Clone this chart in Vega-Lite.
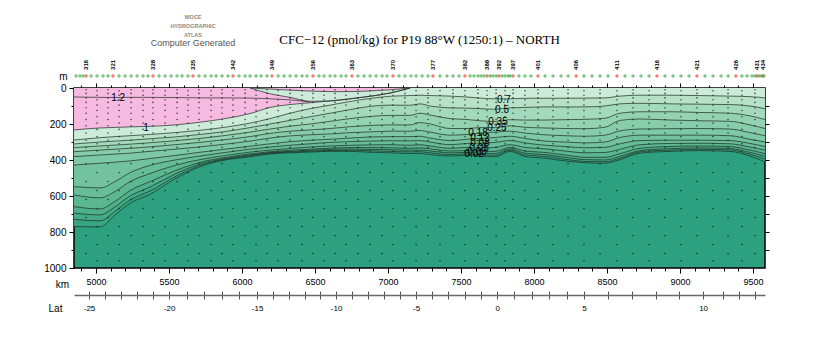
{
"$schema": "https://vega.github.io/schema/vega-lite/v6.json",
"width": 691, "height": 180,
"autosize": {"type": "none"},
"padding": {"left": 74, "top": 88, "right": 55, "bottom": 82},
"background": "white",
"title": {"text": "CFC\u221212 (pmol/kg) for P19 88\u00b0W (1250:1) \u2013 NORTH", "font": "Liberation Serif", "fontSize": 13, "fontWeight": "normal", "color": "black", "anchor": "middle", "frame": "group", "baseline": "middle", "offset": -38},
"config": {
  "view": {"stroke": "black", "strokeWidth": 1.5, "fill": "#2ca07f"},
  "axis": {"tickColor": "black", "labelColor": "black", "labelFont": "Liberation Sans", "titleFont": "Liberation Sans", "titleColor": "black", "titleFontWeight": "normal", "grid": false, "domain": false, "labelFlush": false, "labelOverlap": false}
},
"datasets": {
"sec": [
{"km":4849,"c12":50,"c10":233,"c07":289,"c05":311,"c035":331,"c025":354,"c018":381,"c012":428,"c008":548,"c005":594,"c003":659,"c002":695,"c001":730,"c0005":770},
{"km":5027,"c12":52,"c10":222,"c07":276,"c05":300,"c035":322,"c025":345,"c018":372,"c012":418,"c008":555,"c005":610,"c003":672,"c002":705,"c001":738,"c0005":772},
{"km":5130,"c12":53,"c10":219,"c07":270,"c05":295,"c035":317,"c025":340,"c018":367,"c012":412,"c008":520,"c005":575,"c003":630,"c002":660,"c001":685,"c0005":705},
{"km":5233,"c12":52,"c10":216,"c07":265,"c05":290,"c035":312,"c025":335,"c018":362,"c012":405,"c008":470,"c005":520,"c003":570,"c002":600,"c001":622,"c0005":640},
{"km":5370,"c12":52,"c10":213,"c07":258,"c05":282,"c035":304,"c025":327,"c018":352,"c012":392,"c008":430,"c005":475,"c003":520,"c002":550,"c001":572,"c0005":590},
{"km":5541,"c12":53,"c10":205,"c07":248,"c05":272,"c035":293,"c025":315,"c018":340,"c012":375,"c008":400,"c005":430,"c003":460,"c002":478,"c001":493,"c0005":505},
{"km":5712,"c12":55,"c10":190,"c07":235,"c05":258,"c035":280,"c025":302,"c018":327,"c012":357,"c008":378,"c005":398,"c003":413,"c002":422,"c001":430,"c0005":437},
{"km":5884,"c12":55,"c10":170,"c07":218,"c05":242,"c035":264,"c025":287,"c018":312,"c012":340,"c008":358,"c005":375,"c003":386,"c002":392,"c001":396,"c0005":400},
{"km":6055,"c12":56,"c10":142,"it":0,"ib":0,"c07":195,"c05":220,"c035":245,"c025":270,"c018":295,"c012":323,"c008":340,"c005":356,"c003":366,"c002":372,"c001":377,"c0005":382},
{"km":6192,"c12":60,"c10":108,"it":6,"ib":32,"c07":170,"c05":200,"c035":228,"c025":252,"c018":278,"c012":310,"c008":328,"c005":345,"c003":354,"c002":359,"c001":362,"c0005":366},
{"km":6329,"c12":66,"c10":92,"it":12,"ib":52,"c07":140,"c05":180,"c035":212,"c025":240,"c018":266,"c012":298,"c008":318,"c005":336,"c003":346,"c002":352,"c001":356,"c0005":360},
{"km":6466,"c12":78,"c10":82,"it":17,"ib":74,"c07":115,"c05":160,"c035":200,"c025":233,"c018":260,"c012":290,"c008":310,"c005":328,"c003":340,"c002":346,"c001":351,"c0005":356},
{"km":6603,"c10":72,"it":20,"ib":72,"c07":95,"c05":140,"c035":185,"c025":225,"c018":255,"c012":285,"c008":302,"c005":322,"c003":334,"c002":341,"c001":347,"c0005":352},
{"km":6740,"c10":60,"it":20,"ib":60,"c07":75,"c05":120,"c035":170,"c025":215,"c018":248,"c012":278,"c008":298,"c005":318,"c003":331,"c002":339,"c001":346,"c0005":352},
{"km":6877,"c10":46,"it":16,"ib":46,"c07":58,"c05":102,"c035":158,"c025":208,"c018":244,"c012":272,"c008":295,"c005":316,"c003":331,"c002":341,"c001":349,"c0005":357},
{"km":7014,"c10":28,"it":10,"ib":28,"c07":46,"c05":95,"c035":152,"c025":205,"c018":240,"c012":270,"c008":293,"c005":315,"c003":332,"c002":343,"c001":352,"c0005":360},
{"km":7151,"c10":0,"it":0,"ib":0,"c07":42,"c05":96,"c035":152,"c025":205,"c018":240,"c012":270,"c008":294,"c005":318,"c003":335,"c002":346,"c001":355,"c0005":364},
{"km":7219,"c07":40,"c05":88,"c035":140,"c025":192,"c018":236,"c012":268,"c008":292,"c005":315,"c003":333,"c002":345,"c001":354,"c0005":363},
{"km":7288,"c07":42,"c05":100,"c035":150,"c025":200,"c018":245,"c012":278,"c008":300,"c005":322,"c003":338,"c002":350,"c001":360,"c0005":370},
{"km":7425,"c07":45,"c05":110,"c035":170,"c025":225,"c018":262,"c012":292,"c008":315,"c005":335,"c003":350,"c002":360,"c001":370,"c0005":378},
{"km":7541,"c07":50,"c05":112,"c035":175,"c025":225,"c018":258,"c012":285,"c008":308,"c005":330,"c003":348,"c002":358,"c001":366,"c0005":374},
{"km":7630,"c07":56,"c05":115,"c035":182,"c025":220,"c018":250,"c012":280,"c008":306,"c005":333,"c003":352,"c002":362,"c001":370,"c0005":378},
{"km":7733,"c07":60,"c05":118,"c035":186,"c025":220,"c018":245,"c012":275,"c008":302,"c005":330,"c003":352,"c002":364,"c001":374,"c0005":382},
{"km":7836,"c07":60,"c05":110,"c035":176,"c025":210,"c018":240,"c012":268,"c008":292,"c005":315,"c003":330,"c002":338,"c001":345,"c0005":352},
{"km":7938,"c07":57,"c05":108,"c035":178,"c025":218,"c018":250,"c012":280,"c008":305,"c005":330,"c003":350,"c002":362,"c001":372,"c0005":380},
{"km":8075,"c07":57,"c05":105,"c035":178,"c025":222,"c018":260,"c012":295,"c008":318,"c005":338,"c003":358,"c002":370,"c001":380,"c0005":390},
{"km":8212,"c07":57,"c05":105,"c035":176,"c025":225,"c018":265,"c012":300,"c008":325,"c005":350,"c003":372,"c002":385,"c001":396,"c0005":405},
{"km":8349,"c07":56,"c05":105,"c035":174,"c025":226,"c018":268,"c012":305,"c008":332,"c005":360,"c003":385,"c002":398,"c001":408,"c0005":415},
{"km":8486,"c07":55,"c05":100,"c035":168,"c025":218,"c018":262,"c012":300,"c008":330,"c005":358,"c003":385,"c002":400,"c001":410,"c0005":418},
{"km":8589,"c07":45,"c05":88,"c035":140,"c025":180,"c018":238,"c012":275,"c008":310,"c005":340,"c003":365,"c002":380,"c001":390,"c0005":398},
{"km":8726,"c07":40,"c05":85,"c035":132,"c025":172,"c018":228,"c012":262,"c008":292,"c005":315,"c003":335,"c002":348,"c001":355,"c0005":362},
{"km":8931,"c07":40,"c05":88,"c035":132,"c025":178,"c018":226,"c012":262,"c008":290,"c005":308,"c003":325,"c002":337,"c001":345,"c0005":352},
{"km":9137,"c07":42,"c05":90,"c035":136,"c025":182,"c018":225,"c012":262,"c008":290,"c005":307,"c003":322,"c002":333,"c001":341,"c0005":348},
{"km":9342,"c07":45,"c05":92,"c035":140,"c025":185,"c018":228,"c012":265,"c008":292,"c005":310,"c003":325,"c002":336,"c001":344,"c0005":352},
{"km":9479,"c07":48,"c05":100,"c035":155,"c025":205,"c018":248,"c012":285,"c008":308,"c005":328,"c003":345,"c002":358,"c001":368,"c0005":378},
{"km":9582,"c07":55,"c05":115,"c035":175,"c025":225,"c018":265,"c012":300,"c008":325,"c005":345,"c003":365,"c002":380,"c001":395,"c0005":410}
],
"lab": [
{"km":5151,"d":55,"t":"1.2"},
{"km":5342,"d":220,"t":"1"},
{"km":7794,"d":67,"t":"0.7"},
{"km":7781,"d":122,"t":"0.5"},
{"km":7753,"d":189,"t":"0.35"},
{"km":7746,"d":222,"t":"0.25"},
{"km":7616,"d":250,"t":"0.18"},
{"km":7630,"d":280,"t":"0.12"},
{"km":7630,"d":308,"t":"0.08"},
{"km":7623,"d":333,"t":"0.05"},
{"km":7610,"d":355,"t":"0.03"},
{"km":7589,"d":369,"t":"0.02"}
],
"stn": [
{"km":4863},{"km":4890},{"km":4911},{"km":4932,"stn":"316"},{"km":4966},{"km":5007},{"km":5048},{"km":5082},{"km":5116,"stn":"321"},
{"km":5158},{"km":5199},{"km":5240},{"km":5281},{"km":5322},{"km":5356},{"km":5390,"stn":"328"},
{"km":5432},{"km":5473},{"km":5514},{"km":5555},{"km":5589},{"km":5630},{"km":5664,"stn":"335"},
{"km":5705},{"km":5747},{"km":5788},{"km":5822},{"km":5863},{"km":5904},{"km":5938,"stn":"342"},
{"km":5979},{"km":6021},{"km":6055},{"km":6096},{"km":6130},{"km":6171},{"km":6205,"stn":"349"},
{"km":6247},{"km":6288},{"km":6329},{"km":6370},{"km":6411},{"km":6445},{"km":6486,"stn":"356"},
{"km":6527},{"km":6562},{"km":6603},{"km":6637},{"km":6678},{"km":6712},{"km":6753,"stn":"363"},
{"km":6794},{"km":6836},{"km":6877},{"km":6918},{"km":6959},{"km":6993},{"km":7034,"stn":"370"},
{"km":7075},{"km":7116},{"km":7157},{"km":7192},{"km":7233},{"km":7274},{"km":7308,"stn":"377"},
{"km":7356},{"km":7404},{"km":7445},{"km":7486},{"km":7527,"stn":"382"},
{"km":7562},{"km":7589},{"km":7616},{"km":7637},{"km":7657},{"km":7678,"stn":"388"},
{"km":7699},{"km":7719},{"km":7740},{"km":7760,"stn":"392"},
{"km":7781},{"km":7801},{"km":7822},{"km":7836},{"km":7856,"stn":"397"},
{"km":7897},{"km":7938},{"km":7979},{"km":8027,"stn":"401"},
{"km":8075},{"km":8130},{"km":8185},{"km":8233},{"km":8288,"stn":"406"},
{"km":8342},{"km":8397},{"km":8452},{"km":8507},{"km":8568,"stn":"411"},
{"km":8623},{"km":8678},{"km":8733},{"km":8788},{"km":8842,"stn":"416"},
{"km":8897},{"km":8952},{"km":9007},{"km":9062},{"km":9116,"stn":"421"},
{"km":9171},{"km":9226},{"km":9281},{"km":9329},{"km":9383,"stn":"426"},
{"km":9424},{"km":9459},{"km":9493},{"km":9513},{"km":9527,"stn":"431"},
{"km":9541},{"km":9555},{"km":9568,"stn":"434"},{"km":9575}
],
"dots": [
{"km":4932,"d":[10,30,55,80,110,140,175,210,250,290,330,420,520,620,720,820,920]},
{"km":5007,"d":[15,40,65,95,125,160,195,230,270,310,350,470,570,670,770,870,960]},
{"km":5082,"d":[10,30,55,80,110,140,175,210,250,290,330,420,520,620,720,820,920]},
{"km":5158,"d":[15,40,65,95,125,160,195,230,270,310,350,470,570,670,770,870,960]},
{"km":5240,"d":[10,30,55,80,110,140,175,210,250,290,330,420,520,620,720,820,920]},
{"km":5322,"d":[15,40,65,95,125,160,195,230,270,310,350,470,570,670,770,870,960]},
{"km":5390,"d":[10,30,55,80,110,140,175,210,250,290,330,420,520,620,720,820,920]},
{"km":5473,"d":[15,40,65,95,125,160,195,230,270,310,350,470,570,670,770,870,960]},
{"km":5555,"d":[10,30,55,80,110,140,175,210,250,290,330,420,520,620,720,820,920]},
{"km":5630,"d":[15,40,65,95,125,160,195,230,270,310,350,470,570,670,770,870,960]},
{"km":5705,"d":[10,30,55,80,110,140,175,210,250,290,330,420,520,620,720,820,920]},
{"km":5788,"d":[15,40,65,95,125,160,195,230,270,310,350,470,570,670,770,870,960]},
{"km":5863,"d":[10,30,55,80,110,140,175,210,250,290,330,420,520,620,720,820,920]},
{"km":5938,"d":[15,40,65,95,125,160,195,230,270,310,350,470,570,670,770,870,960]},
{"km":6021,"d":[10,30,55,80,110,140,175,210,250,290,330,420,520,620,720,820,920]},
{"km":6096,"d":[15,40,65,95,125,160,195,230,270,310,350,470,570,670,770,870,960]},
{"km":6171,"d":[10,30,55,80,110,140,175,210,250,290,330,420,520,620,720,820,920]},
{"km":6247,"d":[15,40,65,95,125,160,195,230,270,310,350,470,570,670,770,870,960]},
{"km":6329,"d":[10,30,55,80,110,140,175,210,250,290,330,420,520,620,720,820,920]},
{"km":6411,"d":[15,40,65,95,125,160,195,230,270,310,350,470,570,670,770,870,960]},
{"km":6486,"d":[10,30,55,80,110,140,175,210,250,290,330,420,520,620,720,820,920]},
{"km":6562,"d":[15,40,65,95,125,160,195,230,270,310,350,470,570,670,770,870,960]},
{"km":6637,"d":[10,30,55,80,110,140,175,210,250,290,330,420,520,620,720,820,920]},
{"km":6712,"d":[15,40,65,95,125,160,195,230,270,310,350,470,570,670,770,870,960]},
{"km":6794,"d":[10,30,55,80,110,140,175,210,250,290,330,420,520,620,720,820,920]},
{"km":6877,"d":[15,40,65,95,125,160,195,230,270,310,350,470,570,670,770,870,960]},
{"km":6959,"d":[10,30,55,80,110,140,175,210,250,290,330,420,520,620,720,820,920]},
{"km":7034,"d":[15,40,65,95,125,160,195,230,270,310,350,470,570,670,770,870,960]},
{"km":7116,"d":[10,30,55,80,110,140,175,210,250,290,330,420,520,620,720,820,920]},
{"km":7192,"d":[15,40,65,95,125,160,195,230,270,310,350,470,570,670,770,870,960]},
{"km":7274,"d":[10,30,55,80,110,140,175,210,250,290,330,420,520,620,720,820,920]},
{"km":7356,"d":[15,40,65,95,125,160,195,230,270,310,350,470,570,670,770,870,960]},
{"km":7445,"d":[10,30,55,80,110,140,175,210,250,290,330,420,520,620,720,820,920]},
{"km":7527,"d":[15,40,65,95,125,160,195,230,270,310,350,470,570,670,770,870,960]},
{"km":7616,"d":[10,30,55,80,110,140,175,210,250,290,330,420,520,620,720,820,920]},
{"km":7678,"d":[15,40,65,95,125,160,195,230,270,310,350,470,570,670,770,870,960]},
{"km":7740,"d":[10,30,55,80,110,140,175,210,250,290,330,420,520,620,720,820,920]},
{"km":7801,"d":[15,40,65,95,125,160,195,230,270,310,350,470,570,670,770,870,960]},
{"km":7856,"d":[10,30,55,80,110,140,175,210,250,290,330,420,520,620,720,820,920]},
{"km":7938,"d":[15,40,65,95,125,160,195,230,270,310,350,470,570,670,770,870,960]},
{"km":8027,"d":[10,30,55,80,110,140,175,210,250,290,330,420,520,620,720,820,920]},
{"km":8130,"d":[15,40,65,95,125,160,195,230,270,310,350,470,570,670,770,870,960]},
{"km":8233,"d":[10,30,55,80,110,140,175,210,250,290,330,420,520,620,720,820,920]},
{"km":8342,"d":[15,40,65,95,125,160,195,230,270,310,350,470,570,670,770,870,960]},
{"km":8452,"d":[10,30,55,80,110,140,175,210,250,290,330,420,520,620,720,820,920]},
{"km":8568,"d":[15,40,65,95,125,160,195,230,270,310,350,470,570,670,770,870,960]},
{"km":8678,"d":[10,30,55,80,110,140,175,210,250,290,330,420,520,620,720,820,920]},
{"km":8788,"d":[15,40,65,95,125,160,195,230,270,310,350,470,570,670,770,870,960]},
{"km":8897,"d":[10,30,55,80,110,140,175,210,250,290,330,420,520,620,720,820,920]},
{"km":9007,"d":[15,40,65,95,125,160,195,230,270,310,350,470,570,670,770,870,960]},
{"km":9116,"d":[10,30,55,80,110,140,175,210,250,290,330,420,520,620,720,820,920]},
{"km":9226,"d":[15,40,65,95,125,160,195,230,270,310,350,470,570,670,770,870,960]},
{"km":9329,"d":[10,30,55,80,110,140,175,210,250,290,330,420,520,620,720,820,920]},
{"km":9424,"d":[15,40,65,95,125,160,195,230,270,310,350,470,570,670,770,870,960]},
{"km":9513,"d":[10,30,55,80,110,140,175,210,250,290,330,420,520,620,720,820,920]}
]
},
"layer": [
{"data": {"name": "sec"}, "mark": {"type": "area", "color": "#37a582", "interpolate": "monotone", "clip": true},
 "encoding": {
  "x": {"field": "km", "type": "quantitative", "scale": {"domain": [4849, 9582], "nice": false, "zero": false},
        "axis": {"orient": "bottom", "values": [4900,5000,5100,5200,5300,5400,5500,5600,5700,5800,5900,6000,6100,6200,6300,6400,6500,6600,6700,6800,6900,7000,7100,7200,7300,7400,7500,7600,7700,7800,7900,8000,8100,8200,8300,8400,8500,8600,8700,8800,8900,9000,9100,9200,9300,9400,9500],
                 "format": "d", "labelExpr": "datum.value % 500 === 0 ? datum.label : ''",
                 "tickSize": {"condition": {"test": "datum.value % 500 === 0", "value": 5}, "value": 3},
                 "labelFontSize": 9, "labelPadding": 4,
                 "title": "km", "titleX": -12, "titleY": 16, "titleAngle": 0, "titleFontSize": 10, "titleAlign": "center", "titleBaseline": "middle"}},
  "y": {"field": "c0005", "type": "quantitative", "scale": {"domain": [0, 1000], "reverse": true, "nice": false, "zero": false},
        "axis": {"orient": "left", "values": [0,100,200,300,400,500,600,700,800,900,1000],
                 "labelExpr": "datum.value % 200 === 0 ? datum.label : ''",
                 "tickSize": {"condition": {"test": "datum.value % 200 === 0", "value": 5}, "value": 3},
                 "labelFontSize": 10, "labelPadding": 3, "format": "d",
                 "title": "m", "titleX": -11, "titleY": -12, "titleAngle": 0, "titleFontSize": 10, "titleAlign": "center", "titleBaseline": "middle"}},
  "y2": {"datum": 0}}},
{"data": {"name": "sec"}, "mark": {"type": "area", "color": "#43ab86", "interpolate": "monotone", "clip": true},
 "encoding": {
  "x": {"field": "km", "type": "quantitative", "scale": {"domain": [4849, 9582], "nice": false, "zero": false},
        "axis": {"orient": "top", "values": [4900,5000,5100,5200,5300,5400,5500,5600,5700,5800,5900,6000,6100,6200,6300,6400,6500,6600,6700,6800,6900,7000,7100,7200,7300,7400,7500,7600,7700,7800,7900,8000,8100,8200,8300,8400,8500,8600,8700,8800,8900,9000,9100,9200,9300,9400,9500],
                 "labels": false, "tickSize": {"condition": {"test": "datum.value % 500 === 0", "value": 5}, "value": 3}, "title": null}},
  "y": {"field": "c001", "type": "quantitative", "scale": {"domain": [0, 1000], "reverse": true, "nice": false, "zero": false},
        "axis": {"orient": "right", "values": [100,200,300,400,500,600,700,800,900], "labels": false, "tickSize": 4, "title": null}},
  "y2": {"datum": 0}}},
{"data": {"name": "sec"}, "mark": {"type": "area", "color": "#4eb18b", "interpolate": "monotone", "clip": true},
 "encoding": {
  "x": {"field": "km", "type": "quantitative", "scale": {"domain": [4849, 9582], "nice": false, "zero": false},
        "axis": {"orient": "bottom", "offset": 23, "values": [4952,5062,5171,5281,5390,5500,5621,5741,5862,5982,6103,6211,6319,6428,6536,6644,6754,6863,6973,7082,7192,7303,7414,7525,7636,7747,7866,7985,8104,8223,8342,8505,8668,8832,8995,9158,9295,9404,9514],
                 "tickSize": 8, "tickColor": "#555",
                 "labelExpr": "datum.value==4952?'-25':datum.value==5500?'-20':datum.value==6103?'-15':datum.value==6644?'-10':datum.value==7192?'-5':datum.value==7747?'0':datum.value==8342?'5':datum.value==9158?'10':''",
                 "labelFontSize": 8, "labelPadding": 5,
                 "title": "Lat", "titleX": -19, "titleY": 17, "titleAngle": 0, "titleFontSize": 10, "titleAlign": "center", "titleBaseline": "middle"}},
  "y": {"field": "c002", "type": "quantitative", "scale": {"domain": [0, 1000], "reverse": true, "nice": false, "zero": false}, "axis": null},
  "y2": {"datum": 0}}},
{"data": {"name": "sec"}, "mark": {"type": "area", "color": "#5ab791", "interpolate": "monotone", "clip": true},
 "encoding": {
  "x": {"field": "km", "type": "quantitative", "scale": {"domain": [4849, 9582], "nice": false, "zero": false},
        "axis": {"orient": "bottom", "offset": 27, "ticks": false, "labels": false, "domain": true, "domainColor": "#666", "domainWidth": 1.5, "title": null}},
  "y": {"field": "c003", "type": "quantitative", "scale": {"domain": [0, 1000], "reverse": true, "nice": false, "zero": false}, "axis": null},
  "y2": {"datum": 0}}},
{"data": {"name": "sec"}, "mark": {"type": "area", "color": "#66bd98", "interpolate": "monotone", "clip": true},
 "encoding": {"x": {"field": "km", "type": "quantitative", "scale": {"domain": [4849, 9582], "nice": false, "zero": false}, "axis": null},
  "y": {"field": "c005", "type": "quantitative", "scale": {"domain": [0, 1000], "reverse": true, "nice": false, "zero": false}, "axis": null}, "y2": {"datum": 0}}},
{"data": {"name": "sec"}, "mark": {"type": "area", "color": "#72c29f", "interpolate": "monotone", "clip": true},
 "encoding": {"x": {"field": "km", "type": "quantitative", "scale": {"domain": [4849, 9582], "nice": false, "zero": false}, "axis": null},
  "y": {"field": "c008", "type": "quantitative", "scale": {"domain": [0, 1000], "reverse": true, "nice": false, "zero": false}, "axis": null}, "y2": {"datum": 0}}},
{"data": {"name": "sec"}, "mark": {"type": "area", "color": "#7dc8a5", "interpolate": "monotone", "clip": true},
 "encoding": {"x": {"field": "km", "type": "quantitative", "scale": {"domain": [4849, 9582], "nice": false, "zero": false}, "axis": null},
  "y": {"field": "c012", "type": "quantitative", "scale": {"domain": [0, 1000], "reverse": true, "nice": false, "zero": false}, "axis": null}, "y2": {"datum": 0}}},
{"data": {"name": "sec"}, "mark": {"type": "area", "color": "#88cdab", "interpolate": "monotone", "clip": true},
 "encoding": {"x": {"field": "km", "type": "quantitative", "scale": {"domain": [4849, 9582], "nice": false, "zero": false}, "axis": null},
  "y": {"field": "c018", "type": "quantitative", "scale": {"domain": [0, 1000], "reverse": true, "nice": false, "zero": false}, "axis": null}, "y2": {"datum": 0}}},
{"data": {"name": "sec"}, "mark": {"type": "area", "color": "#94d3b2", "interpolate": "monotone", "clip": true},
 "encoding": {"x": {"field": "km", "type": "quantitative", "scale": {"domain": [4849, 9582], "nice": false, "zero": false}, "axis": null},
  "y": {"field": "c025", "type": "quantitative", "scale": {"domain": [0, 1000], "reverse": true, "nice": false, "zero": false}, "axis": null}, "y2": {"datum": 0}}},
{"data": {"name": "sec"}, "mark": {"type": "area", "color": "#a3dabc", "interpolate": "monotone", "clip": true},
 "encoding": {"x": {"field": "km", "type": "quantitative", "scale": {"domain": [4849, 9582], "nice": false, "zero": false}, "axis": null},
  "y": {"field": "c035", "type": "quantitative", "scale": {"domain": [0, 1000], "reverse": true, "nice": false, "zero": false}, "axis": null}, "y2": {"datum": 0}}},
{"data": {"name": "sec"}, "mark": {"type": "area", "color": "#b7e2c8", "interpolate": "monotone", "clip": true},
 "encoding": {"x": {"field": "km", "type": "quantitative", "scale": {"domain": [4849, 9582], "nice": false, "zero": false}, "axis": null},
  "y": {"field": "c05", "type": "quantitative", "scale": {"domain": [0, 1000], "reverse": true, "nice": false, "zero": false}, "axis": null}, "y2": {"datum": 0}}},
{"data": {"name": "sec"}, "mark": {"type": "area", "color": "#cdebd9", "interpolate": "monotone", "clip": true},
 "encoding": {"x": {"field": "km", "type": "quantitative", "scale": {"domain": [4849, 9582], "nice": false, "zero": false}, "axis": null},
  "y": {"field": "c07", "type": "quantitative", "scale": {"domain": [0, 1000], "reverse": true, "nice": false, "zero": false}, "axis": null}, "y2": {"datum": 0}}},
{"data": {"name": "sec"}, "transform": [{"filter": "isValid(datum.c10)"}], "mark": {"type": "area", "color": "#f6b9df", "interpolate": "monotone", "clip": true},
 "encoding": {"x": {"field": "km", "type": "quantitative", "scale": {"domain": [4849, 9582], "nice": false, "zero": false}, "axis": null},
  "y": {"field": "c10", "type": "quantitative", "scale": {"domain": [0, 1000], "reverse": true, "nice": false, "zero": false}, "axis": null}, "y2": {"datum": 0}}},
{"data": {"name": "sec"}, "transform": [{"filter": "isValid(datum.it)"}], "mark": {"type": "area", "color": "#cdebd9", "interpolate": "monotone", "clip": true},
 "encoding": {"x": {"field": "km", "type": "quantitative", "scale": {"domain": [4849, 9582], "nice": false, "zero": false}, "axis": null},
  "y": {"field": "ib", "type": "quantitative", "scale": {"domain": [0, 1000], "reverse": true, "nice": false, "zero": false}, "axis": null}, "y2": {"field": "it"}}},
{"data": {"name": "dots"}, "transform": [{"flatten": ["d"]}], "mark": {"type": "circle", "size": 2.5, "color": "#111", "opacity": 0.75, "clip": true},
 "encoding": {"x": {"field": "km", "type": "quantitative", "scale": {"domain": [4849, 9582], "nice": false, "zero": false}, "axis": null},
  "y": {"field": "d", "type": "quantitative", "scale": {"domain": [0, 1000], "reverse": true, "nice": false, "zero": false}, "axis": null}}},
{"data": {"name": "sec"},
 "transform": [{"fold": ["c12","c10","it","ib","c07","c05","c035","c025","c018","c012","c008","c005","c003","c002","c001","c0005"], "as": ["level", "depth"]}, {"filter": "isValid(datum.depth)"}],
 "mark": {"type": "line", "interpolate": "monotone", "strokeWidth": 0.7, "color": "#1d2a22", "clip": true},
 "encoding": {"x": {"field": "km", "type": "quantitative", "scale": {"domain": [4849, 9582], "nice": false, "zero": false}, "axis": null},
  "y": {"field": "depth", "type": "quantitative", "scale": {"domain": [0, 1000], "reverse": true, "nice": false, "zero": false}, "axis": null}, "detail": {"field": "level", "type": "nominal"}}},
{"data": {"name": "lab"}, "mark": {"type": "text", "font": "Liberation Sans", "fontSize": 10, "color": "black", "align": "center", "baseline": "middle"},
 "encoding": {"x": {"field": "km", "type": "quantitative", "scale": {"domain": [4849, 9582], "nice": false, "zero": false}, "axis": null},
  "y": {"field": "d", "type": "quantitative", "scale": {"domain": [0, 1000], "reverse": true, "nice": false, "zero": false}, "axis": null}, "text": {"field": "t"}}},
{"data": {"name": "stn"}, "mark": {"type": "point", "shape": "M-1,0H1M0,-1V1", "size": 16, "filled": false, "strokeWidth": 0.8, "opacity": 1},
 "encoding": {"x": {"field": "km", "type": "quantitative", "scale": {"domain": [4849, 9582], "nice": false, "zero": false}, "axis": null},
  "y": {"datum": -67, "type": "quantitative", "scale": {"domain": [0, 1000], "reverse": true, "nice": false, "zero": false}, "axis": null},
  "color": {"condition": {"test": "isValid(datum.stn)", "value": "#e0442a"}, "value": "#3aa843"}}},
{"data": {"name": "stn"}, "transform": [{"filter": "isValid(datum.stn)"}], "mark": {"type": "text", "angle": 270, "fontSize": 6, "font": "Liberation Sans", "fontWeight": "bold", "color": "black", "align": "center", "baseline": "middle"},
 "encoding": {"x": {"field": "km", "type": "quantitative", "scale": {"domain": [4849, 9582], "nice": false, "zero": false}, "axis": null},
  "y": {"datum": -128, "type": "quantitative", "scale": {"domain": [0, 1000], "reverse": true, "nice": false, "zero": false}, "axis": null}, "text": {"field": "stn"}}},
{"data": {"values": [{"t": "logo"}]}, "mark": {"type": "text", "font": "Liberation Sans", "fontSize": 5.5, "fontWeight": "bold", "color": "#888", "align": "center", "baseline": "middle", "lineHeight": 9},
 "encoding": {"x": {"datum": 5664, "type": "quantitative", "scale": {"domain": [4849, 9582], "nice": false, "zero": false}, "axis": null},
  "y": {"datum": -394, "type": "quantitative", "scale": {"domain": [0, 1000], "reverse": true, "nice": false, "zero": false}, "axis": null},
  "text": {"value": ["WOCE", "HYDROGRAPHIC", "ATLAS"]}}},
{"data": {"values": [{"t": "cg"}]}, "mark": {"type": "text", "font": "Liberation Sans", "fontSize": 9, "color": "#555", "align": "center", "baseline": "middle"},
 "encoding": {"x": {"datum": 5664, "type": "quantitative", "scale": {"domain": [4849, 9582], "nice": false, "zero": false}, "axis": null},
  "y": {"datum": -250, "type": "quantitative", "scale": {"domain": [0, 1000], "reverse": true, "nice": false, "zero": false}, "axis": null},
  "text": {"value": "Computer Generated"}}}
],
"resolve": {"axis": {"x": "independent", "y": "independent"}}
}
